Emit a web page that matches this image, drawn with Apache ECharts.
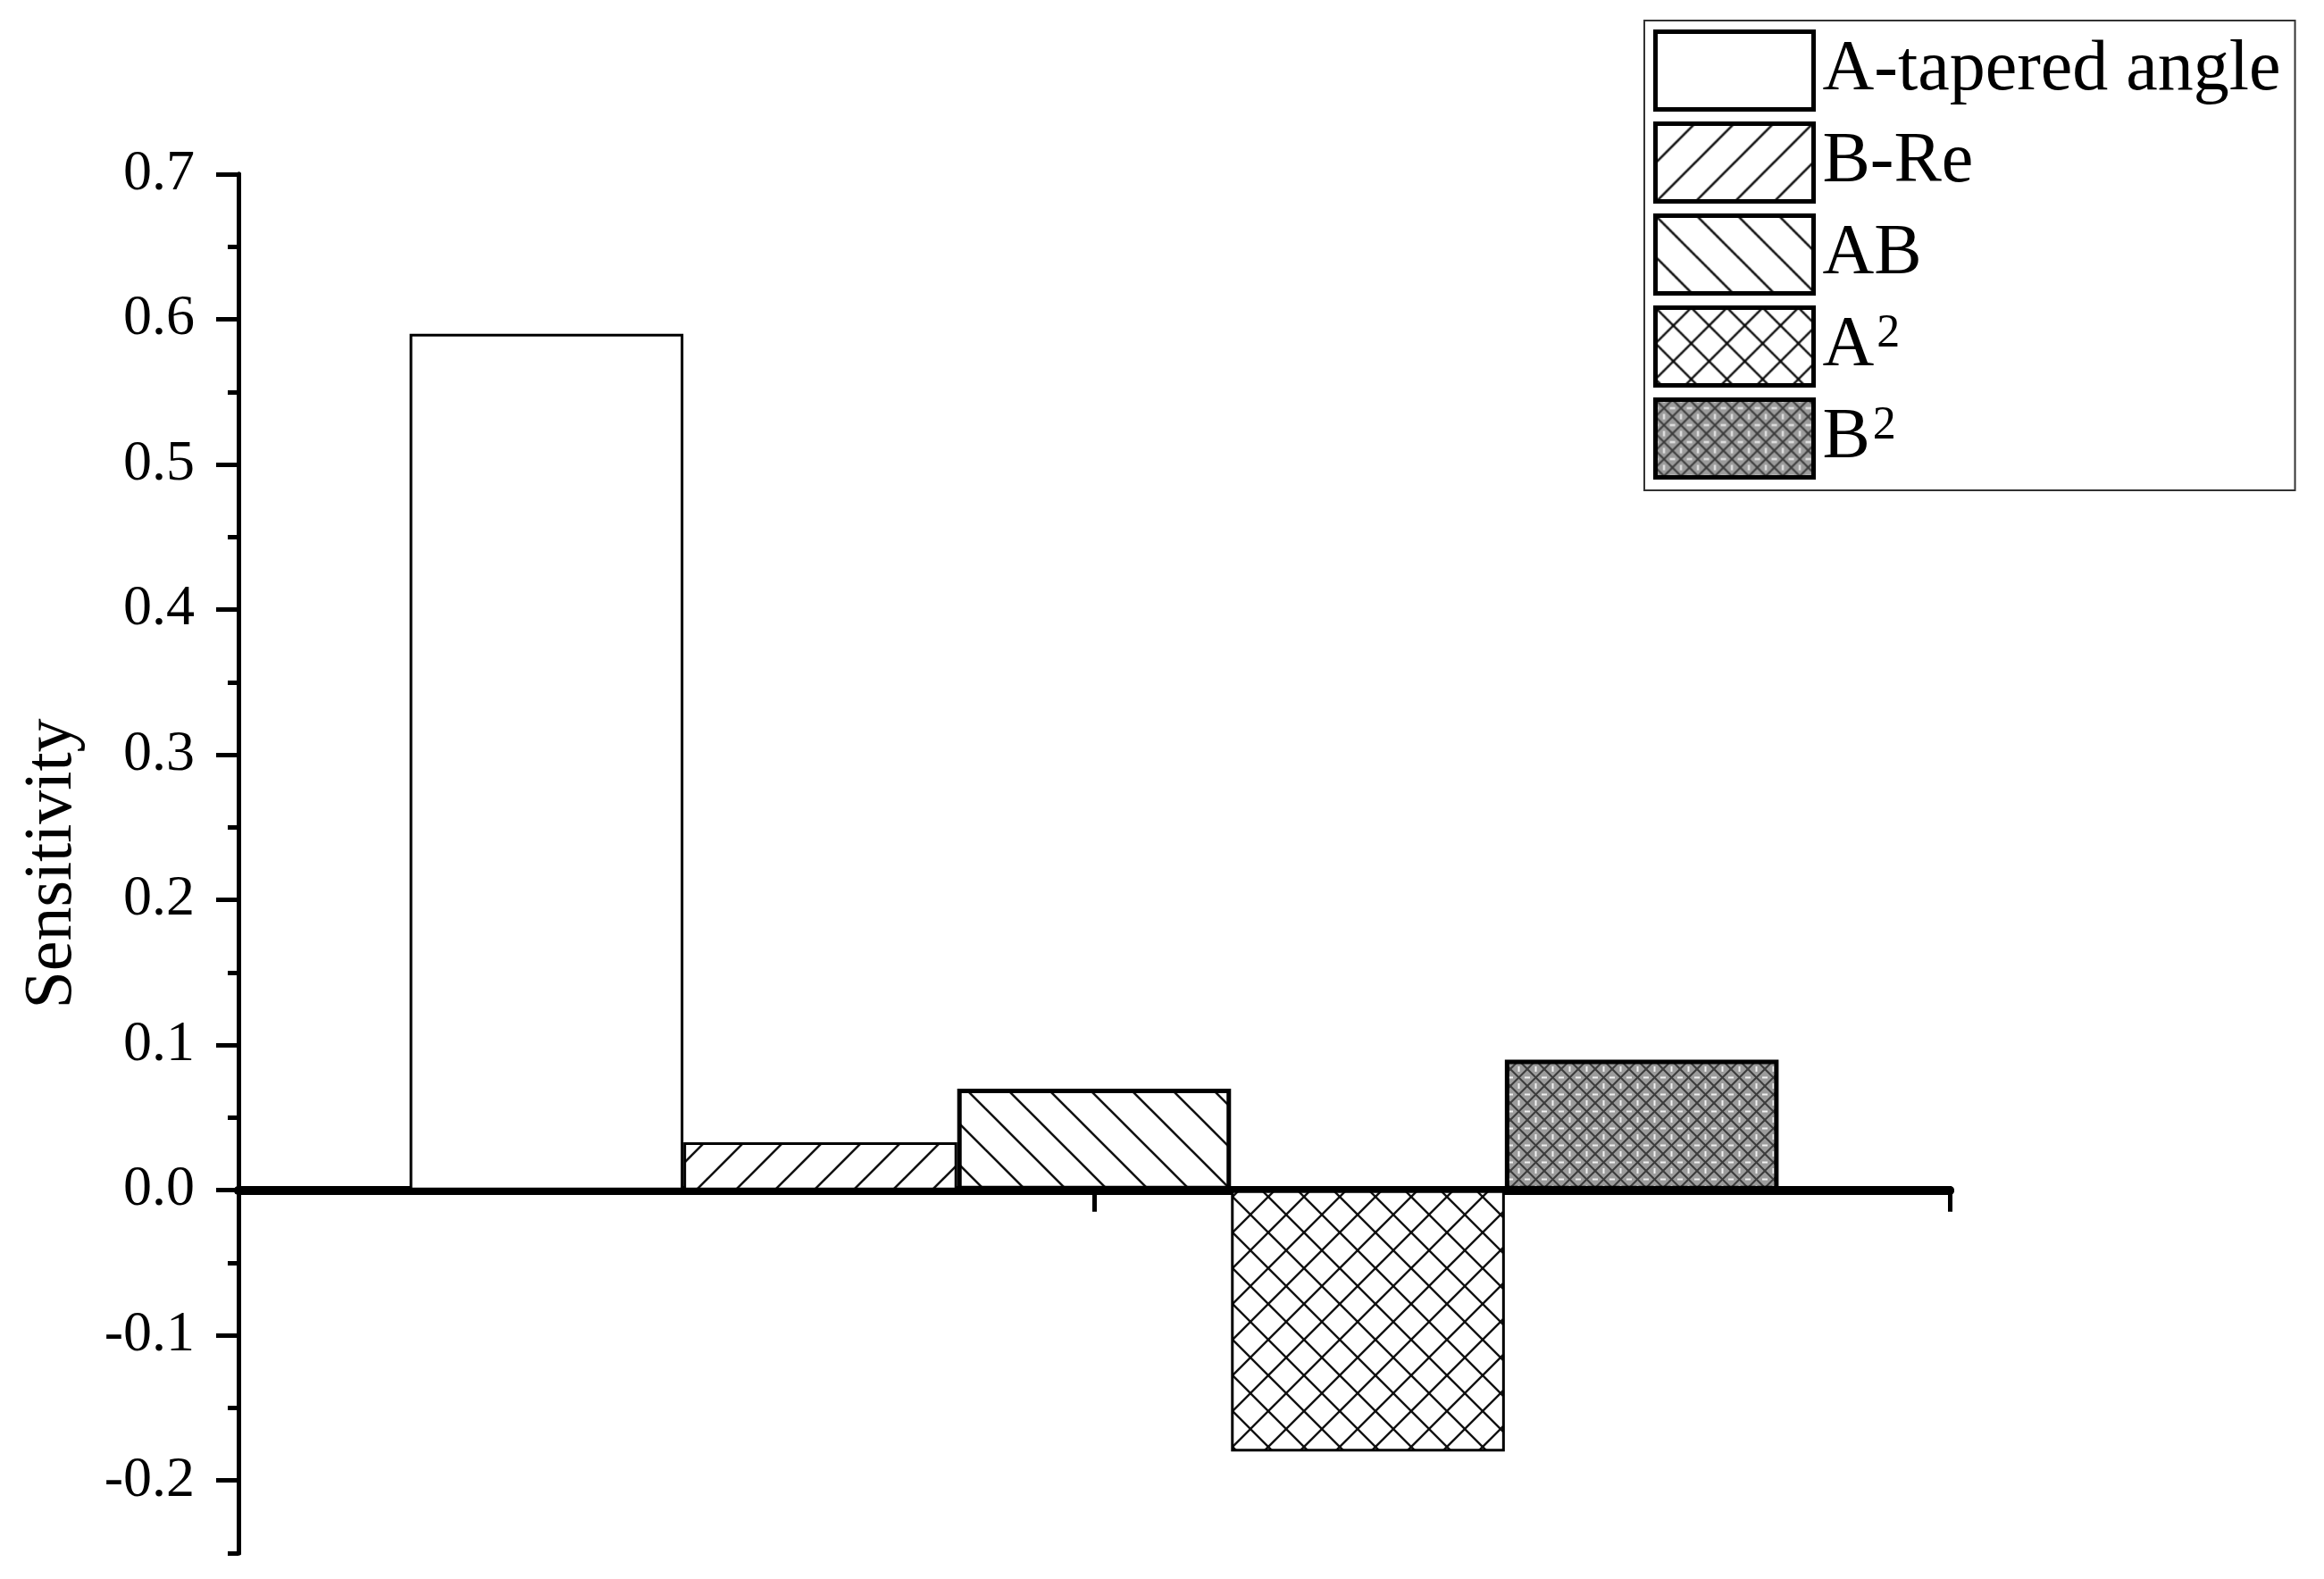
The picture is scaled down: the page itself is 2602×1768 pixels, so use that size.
<!DOCTYPE html>
<html><head><meta charset="utf-8">
<script src="https://cdn.jsdelivr.net/npm/echarts@6/dist/echarts.min.js"></script>
<style>html,body{margin:0;padding:0;background:#fff}#c{width:2602px;height:1768px}</style>
</head><body><div id="c"></div>
<script>
// ---- data ----
const categories = [''];
const seriesNames = ['A-tapered angle', 'B-Re', 'AB', 'A²', 'B²'];
const sensitivity = [0.59, 0.033, 0.07, -0.18, 0.09];
const yMajorTicks = [-0.2, -0.1, 0.0, 0.1, 0.2, 0.3, 0.4, 0.5, 0.6, 0.7];
const yMin = -0.25, yMax = 0.7, yMinorStep = 0.05;

// ---- patterns ----
function makeTile(size, bg, draw) {
  const c = document.createElement('canvas');
  c.width = size; c.height = size;
  const g = c.getContext('2d');
  g.fillStyle = bg; g.fillRect(0, 0, size, size);
  draw(g, size);
  return { image: c, repeat: 'repeat' };
}
function lines(g, s, dir, lw, col) {
  g.strokeStyle = col; g.lineWidth = lw; g.lineCap = 'square';
  for (const k of [-s, 0, s]) {
    g.beginPath();
    if (dir === '/') { g.moveTo(k, s); g.lineTo(k + s, 0); }
    else { g.moveTo(k, 0); g.lineTo(k + s, s); }
    g.stroke();
  }
}
const patWhite = '#ffffff';
const patFwd = makeTile(44, '#fff', (g, s) => lines(g, s, '/', 2.6, '#111'));
const patBack = makeTile(46, '#fff', (g, s) => lines(g, s, '\\', 2.6, '#111'));
const patCross = makeTile(40, '#fff', (g, s) => { lines(g, s, '/', 2.4, '#111'); lines(g, s, '\\', 2.4, '#111'); });
const patFine = makeTile(19, '#9c9c9c', (g, s) => {
  lines(g, s, '/', 2, '#3c3c3c'); lines(g, s, '\\', 2, '#3c3c3c');
  g.fillStyle = '#f2f2f2';
  g.fillRect(0, s/2 - 1, 3, 2); g.fillRect(s - 3, s/2 - 1, 3, 2);
  g.fillRect(s/2 - 1, 0, 2, 3); g.fillRect(s/2 - 1, s - 3, 2, 3);
});
const fills = [patWhite, patFwd, patBack, patCross, patFine];
const borders = [3, 3, 5, 3, 5];

const FONT = 'Liberation Serif';
const chart = echarts.init(document.getElementById('c'), null, { renderer: 'canvas' });

const series = seriesNames.map((n, i) => ({
  name: n, type: 'bar', xAxisIndex: 0, yAxisIndex: 0,
  barGap: '0%', barCategoryGap: '20%',
  data: [sensitivity[i]],
  itemStyle: { color: fills[i], borderColor: '#000', borderWidth: borders[i] },
  emphasis: { disabled: true }
}));

chart.setOption({
  animation: false,
  backgroundColor: '#fff',
  grid: { left: 267, right: 419, top: 195, bottom: 29, containLabel: false },
  legend: {
    orient: 'vertical', left: 1841, top: 23,
    padding: [10, 16, 12, 10],
    itemWidth: 177, itemHeight: 87, itemGap: 11,
    icon: 'rect',
    borderColor: '#333', borderWidth: 2,
    itemStyle: { borderColor: '#000', borderWidth: 5 },
    selectedMode: false,
    data: seriesNames,
    formatter: function (name) {
      if (name === 'A²') return 'A{sup|2}';
      if (name === 'B²') return 'B{sup|2}';
      return name;
    },
    textStyle: {
      fontFamily: FONT, fontSize: 80, lineHeight: 80, color: '#000', padding: [0, 0, 0, 5],
      rich: { sup: { fontFamily: FONT, fontSize: 52, color: '#000', verticalAlign: 'top', lineHeight: 42, padding: [0, 0, 0, 3] } }
    }
  },
  xAxis: [
    {
      type: 'category', data: categories, position: 'bottom',
      axisLine: { onZero: true, lineStyle: { color: '#000', width: 10 } },
      axisTick: { show: false },
      axisLabel: { show: false }, splitLine: { show: false }
    },
    {
      type: 'value', min: 0, max: 1, interval: 0.5, position: 'bottom',
      axisLine: { show: true, onZero: true, onZeroAxisIndex: 0, lineStyle: { color: '#000', width: 10 } },
      axisTick: { show: true, length: 24, lineStyle: { color: '#000', width: 5 } },
      axisLabel: { show: false }, splitLine: { show: false }
    }
  ],
  yAxis: [
    {
      type: 'value', min: yMin, max: yMax, position: 'left',
      name: 'Sensitivity', nameLocation: 'middle', nameGap: 170, nameRotate: 90,
      nameTextStyle: { fontFamily: FONT, fontSize: 76, color: '#000' },
      axisLine: { show: true, lineStyle: { color: '#000', width: 5 } },
      axisTick: { show: true, length: 25, customValues: yMajorTicks, lineStyle: { color: '#000', width: 5 } },
      axisLabel: {
        show: true, customValues: yMajorTicks, margin: 49,
        fontFamily: FONT, fontSize: 64, color: '#000',
        formatter: v => Number(v).toFixed(1)
      },
      splitLine: { show: false }
    },
    {
      type: 'value', min: yMin, max: yMax, interval: yMinorStep, position: 'left',
      axisLine: { show: true, lineStyle: { color: '#000', width: 5 } },
      axisTick: { show: true, length: 12, lineStyle: { color: '#000', width: 5 } },
      axisLabel: { show: false },
      splitLine: { show: false }
    }
  ],
  series: series
});
</script>
</body></html>
